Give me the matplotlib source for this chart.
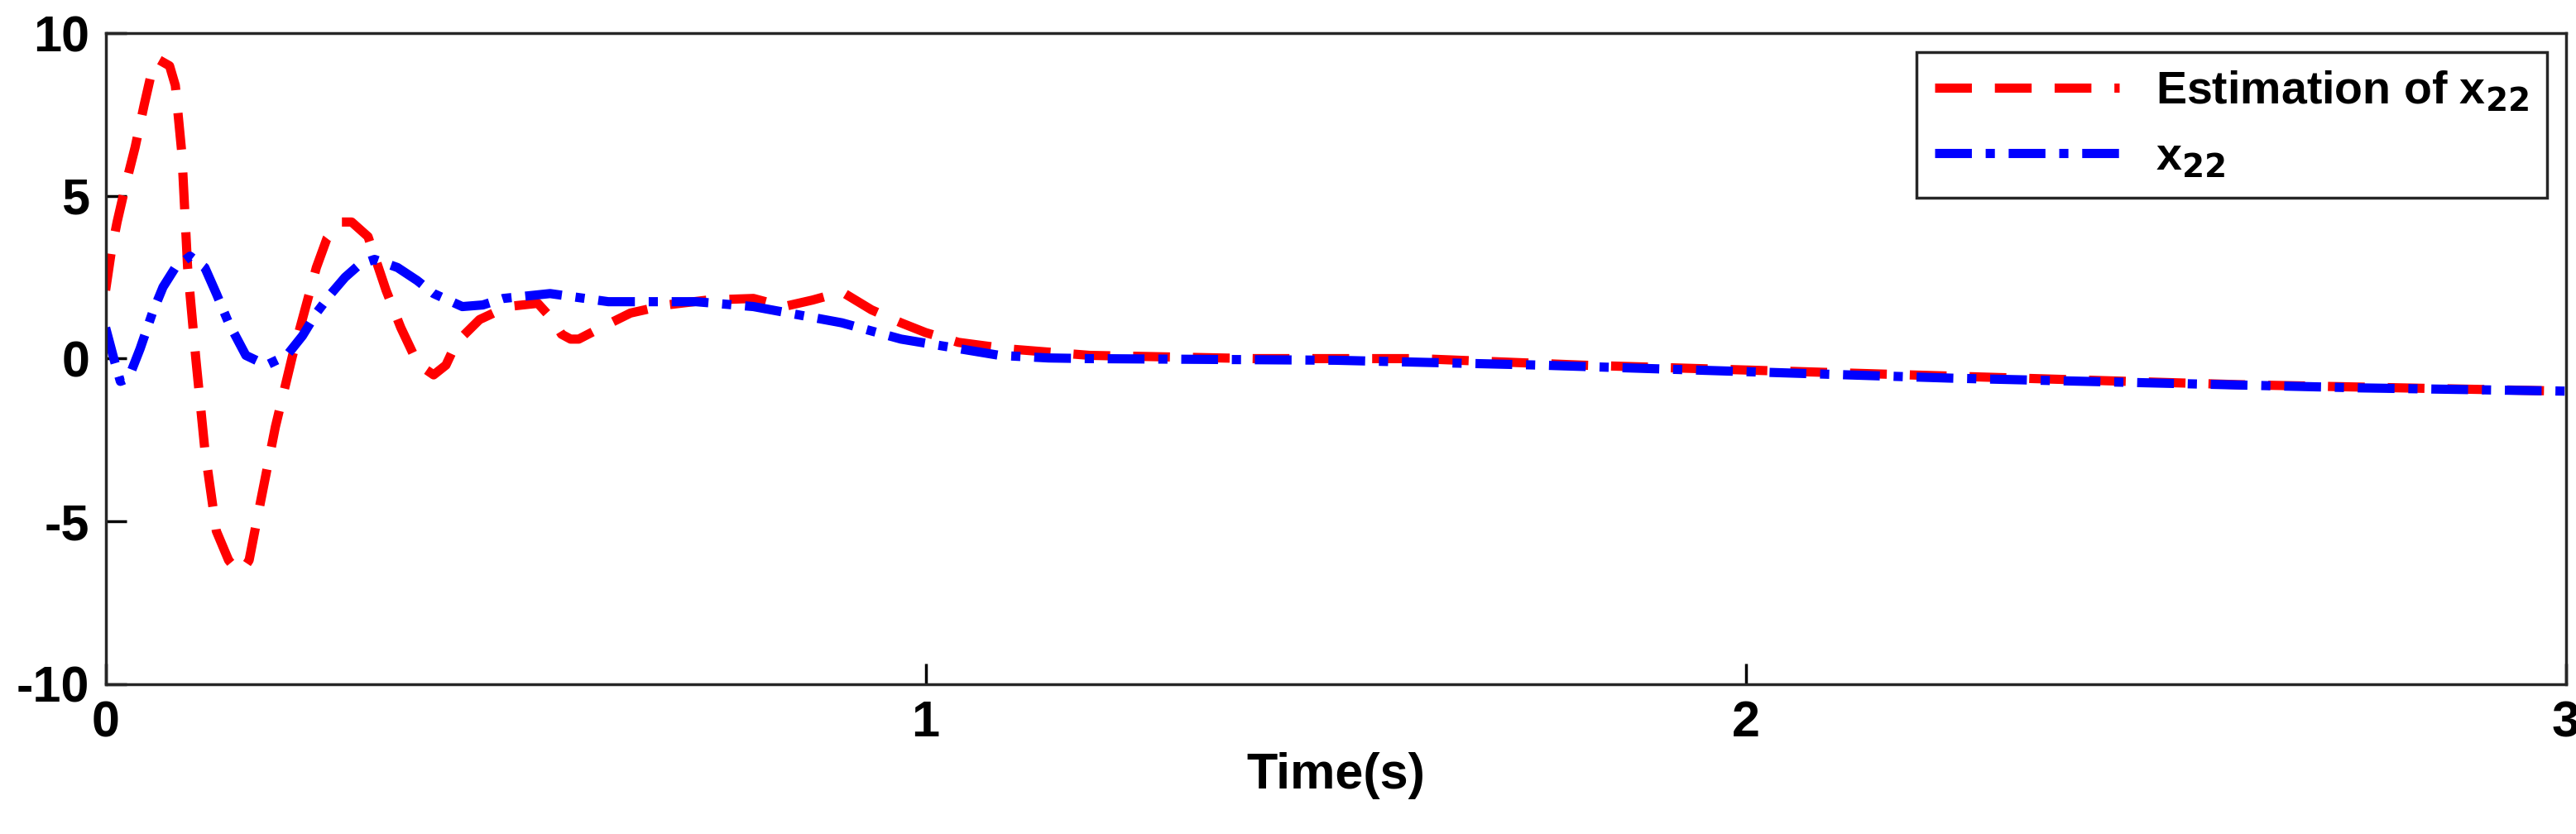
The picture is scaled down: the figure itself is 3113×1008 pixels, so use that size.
import numpy as np
import matplotlib.pyplot as plt

# estimate of x22
t_est = [0, .007, .014, .025, .036, .047, .057, .064, .071, .078, .085, .093, .1, .11, .121,
         .135, .15, .16, .167, .175, .185, .207, .228, .257, .27, .285, .3, .32, .342, .36,
         .381, .4, .415, .428, .456, .49, .527, .545, .556, .567, .577, .6, .64, .684, .734,
         .79, .827, .862, .898, .934, .97, 1.0, 1.04, 1.1, 1.2, 1.4, 1.6, 1.8, 2.0, 2.2,
         2.4, 2.6, 2.8, 3.0]
x_est = [2.1, 3.3, 4.2, 5.4, 6.5, 7.8, 8.9, 9.2, 9.1, 9.0, 8.4, 6.3, 2.8, 0, -2.8,
         -5.3, -6.2, -6.5, -6.5, -6.2, -4.9, -2.1, 0.1, 2.8, 3.7, 4.2, 4.2, 3.75, 2.1, 0.95,
         -0.17, -0.5, -0.2, 0.5, 1.2, 1.6, 1.7, 1.2, 0.75, 0.6, 0.6, 0.9, 1.4, 1.65, 1.8,
         1.85, 1.6, 1.8, 2.05, 1.5, 1.1, 0.8, 0.5, 0.3, 0.1, 0.0, 0.0, -0.2, -0.35, -0.5,
         -0.65, -0.8, -0.9, -1.0]

# true x22
t_true = [0, .01, .018, .028, .042, .057, .07, .085, .103, .121, .135, .15, .171, .196, .221,
          .24, .257, .275, .292, .31, .328, .356, .38, .4, .435, .46, .485, .542, .613, .72,
          .79, .898, .97, 1.03, 1.09, 1.15, 1.2, 1.5, 1.75, 2.0, 2.25, 2.5, 2.75, 3.0]
x_true = [0.95, 0.0, -0.7, -0.6, 0.3, 1.4, 2.2, 2.8, 3.15, 2.8, 2.0, 1.1, 0.1, -0.2, 0.1,
          0.7, 1.4, 2.0, 2.5, 2.9, 3.05, 2.8, 2.4, 2.0, 1.6, 1.65, 1.85, 2.0, 1.75, 1.75,
          1.6, 1.1, 0.6, 0.35, 0.1, 0.02, 0.0, -0.05, -0.2, -0.4, -0.6, -0.75, -0.9, -1.0]

plt.rcParams['font.family'] = ['Liberation Sans', 'DejaVu Sans']
plt.rcParams['font.weight'] = 'bold'
plt.rcParams['axes.unicode_minus'] = False

fig = plt.figure(figsize=(31.13, 10.08), dpi=100)
ax = fig.add_axes([0.041, 0.18, 0.955, 0.78])

ax.plot(t_est, x_est, color='red', lw=8, ls=(0, (4, 2.5)), label='Estimation of x$_{\\mathbf{22}}$')
ax.plot(t_true, x_true, color='blue', lw=8, ls=(0, (4, 1.5, 1, 1.5)), label='x$_{\\mathbf{22}}$')

ax.set_xlim(0, 3)
ax.set_ylim(-10, 10)
ax.set_xticks([0, 1, 2, 3])
ax.set_yticks([-10, -5, 0, 5, 10])
ax.tick_params(direction='in', labelsize=44, length=18, width=2.5, pad=14)
for s in ax.spines.values():
    s.set_linewidth(2.5)
    s.set_color('#262626')
ax.set_xlabel('Time(s)', fontsize=44, fontweight='bold')

leg = ax.legend(loc='upper right', fontsize=40, handlelength=4, fancybox=False,
                edgecolor='#262626', framealpha=1, borderaxespad=0.4)
leg.get_frame().set_linewidth(2.5)

fig.savefig('out.png', dpi=100)
